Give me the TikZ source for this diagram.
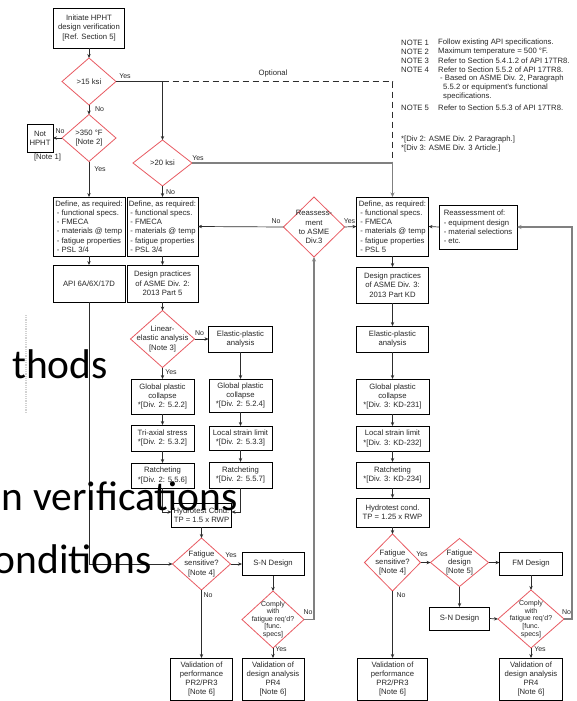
\documentclass[tikz,border=0pt]{standalone}
\usepackage{fontspec}
\setmainfont{Liberation Sans}
\newfontfamily\slidefont{Carlito}
\usetikzlibrary{shapes.geometric,arrows.meta,calc}
\definecolor{diared}{RGB}{232,90,98}
\definecolor{txtc}{RGB}{40,40,40}
\definecolor{linec}{RGB}{45,45,45}
\definecolor{glinec}{RGB}{128,128,128}
\newcommand\fsz{\fontsize{7.7}{9.3}\selectfont}
\newcommand\fdef{\fontsize{7.7}{9.2}\selectfont}
\newcommand\fcom{\fontsize{7}{7.6}\selectfont}
\newcommand\flbl{\fontsize{7}{8}\selectfont}
\newcommand\fnote{\fontsize{7.7}{9}\selectfont}
\begin{document}
\begin{tikzpicture}[x=1pt,y=-1pt,
  box/.style={draw=black, line width=0.7pt, align=center, inner sep=0.5pt, outer sep=0pt, font=\fsz, text=txtc},
  lbox/.style={box, align=left, font=\fdef},
  dia/.style={shape=diamond, draw=diared, line width=0.8pt, inner sep=0pt, outer sep=0pt},
  dtxt/.style={align=center, font=\fsz, text=txtc, inner sep=0pt},
  wh/.style 2 args={minimum width=#1, minimum height=#2},
  lbl/.style={font=\flbl, text=txtc, inner sep=0pt},
  note/.style={font=\fnote, text=txtc, inner sep=0pt, anchor=west},
  arr/.style={draw=linec, line width=0.7pt, -{Stealth[length=4pt,width=3.4pt]}},
  plainline/.style={draw=linec, line width=0.7pt},
  garr/.style={draw=glinec, line width=1.2pt, -{Stealth[length=4.5pt,width=4pt]}},
  dashl/.style={draw=linec, line width=0.8pt, dash pattern=on 6pt off 4pt},
  slide/.style={font=\slidefont\fontsize{41.5}{45}\selectfont, text=black, inner sep=0pt, anchor=base east}
]
\fill[white] (0,0) rectangle (577,701);
\useasboundingbox (0,0) rectangle (577,701);

% ---------- left column ----------
\node[box,wh={71pt}{40pt}] (start) at (89,28) {Initiate HPHT\\design verification\\{[Ref. Section 5]}};
\node[dia,wh={54pt}{47pt}] (d15) at (89,81.5) {};
\node[dtxt] (d15t) at (d15) {>15 ksi};
\node[dia,wh={54pt}{47pt}] (d350) at (89,138) {};
\node[dtxt] (d350t) at (d350) {>350 °F\\{[Note 2]}};
\node[box,wh={26pt}{28pt}] (nhp) at (40,138) {Not\\HPHT};
\node[lbl,font=\fsz] (n1) at (47.5,157.5) {[Note 1]};
\node[lbox,wh={72pt}{59pt}] (def1) at (89,226.5) {Define, as required:\\\hspace{1.5pt}- functional specs.\\\hspace{1.5pt}- FMECA\\\hspace{1.5pt}- materials @ temp\\\hspace{1.5pt}- fatigue properties\\\hspace{1.5pt}- PSL 3/4};
\node[box,wh={72pt}{37pt}] (api) at (89,283.5) {API 6A/6X/17D};

% ---------- Div 2 column ----------
\node[dia,wh={59pt}{46pt}] (d20) at (162.5,163) {};
\node[dtxt] (d20t) at (d20) {>20 ksi};
\node[lbox,wh={71pt}{59pt}] (def2) at (162.5,226.5) {Define, as required:\\\hspace{1.5pt}- functional specs.\\\hspace{1.5pt}- FMECA\\\hspace{1.5pt}- materials @ temp\\\hspace{1.5pt}- fatigue properties\\\hspace{1.5pt}- PSL 3/4};
\node[box,wh={71pt}{37pt}] (dp2) at (162.5,283.5) {Design practices\\of ASME Div. 2:\\2013 Part 5};
\node[dia,wh={64pt}{57pt}] (dlin) at (162.5,339) {};
\node[dtxt] (dlint) at (dlin) {Linear-\\elastic analysis\\{[Note 3]}};
\node[box,wh={64pt}{26pt}] (ep2) at (240.5,339) {Elastic-plastic\\analysis};
\node[box,wh={63pt}{35pt}] (gpc2a) at (162.5,396.5) {Global plastic\\collapse\\{*[Div. 2: 5.2.2]}};
\node[box,wh={63pt}{26pt}] (tri) at (162.5,438) {Tri-axial stress\\{*[Div. 2: 5.3.2]}};
\node[box,wh={63pt}{25pt}] (rat2a) at (162.5,475.5) {Ratcheting\\{*[Div. 2: 5.5.6]}};
\node[box,wh={63pt}{33pt}] (gpc2b) at (240.5,395.5) {Global plastic\\collapse\\{*[Div. 2: 5.2.4]}};
\node[box,wh={63pt}{24pt}] (lsl2) at (240.5,438) {Local strain limit\\{*[Div. 2: 5.3.3]}};
\node[box,wh={63pt}{26pt}] (rat2b) at (240.5,475) {Ratcheting\\{*[Div. 2: 5.5.7]}};
\node[box,wh={60pt}{24pt}] (hyd2) at (201.5,515) {Hydrotest Cond.\\TP = 1.5 x RWP};
\node[dia,wh={58pt}{52pt}] (dfat2) at (201.5,564) {};
\node[dtxt] (dfat2t) at (dfat2) {Fatigue\\sensitive?\\{[Note 4]}};
\node[box,wh={62pt}{23pt}] (sn2) at (273,564) {S-N Design};
\node[dia,wh={62pt}{57pt}] (dcomp2) at (273,619.5) {};
\node[dtxt,font=\fcom] (dcomp2t) at (dcomp2) {Comply\\with\\fatigue req'd?\\{[func.}\\specs]};
\node[box,wh={62pt}{42pt},font=\fontsize{7.7}{9}\selectfont] (val2a) at (201.5,679) {Validation of\\performance\\PR2/PR3\\{[Note 6]}};
\node[box,wh={62pt}{42pt},font=\fontsize{7.7}{9}\selectfont] (val2b) at (273,679) {Validation of\\design analysis\\PR4\\{[Note 6]}};

% ---------- reassessment ----------
\node[dia,wh={61pt}{60pt}] (dreas) at (314,227) {};
\node[dtxt,font=\fdef] (dreast) at (dreas) {Reassess-\\ment\\to ASME\\Div.3};

% ---------- Div 3 column ----------
\node[lbox,wh={72pt}{59pt}] (def3) at (392.5,226.5) {Define, as required:\\\hspace{1.5pt}- functional specs.\\\hspace{1.5pt}- FMECA\\\hspace{1.5pt}- materials @ temp\\\hspace{1.5pt}- fatigue properties\\\hspace{1.5pt}- PSL 5};
\node[lbox,wh={78pt}{44pt}] (reas) at (478,227) {Reassessment of:\\- equipment design\\- material selections\\- etc.};
\node[box,wh={72pt}{36pt}] (dp3) at (392.5,285) {Design practices\\of ASME Div. 3:\\2013 Part KD};
\node[box,wh={72pt}{26pt}] (ep3) at (392.5,339) {Elastic-plastic\\analysis};
\node[box,wh={73pt}{35pt}] (gpc3) at (392.5,396.5) {Global plastic\\collapse\\{*[Div. 3: KD-231]}};
\node[box,wh={73pt}{25pt}] (lsl3) at (392.5,438.5) {Local strain limit\\{*[Div. 3: KD-232]}};
\node[box,wh={73pt}{26pt}] (rat3) at (392.5,475) {Ratcheting\\{*[Div. 3: KD-234]}};
\node[box,wh={73pt}{29pt}] (hyd3) at (392.5,512.5) {Hydrotest cond.\\TP = 1.25 x RWP};
\node[dia,wh={56pt}{57pt}] (dfat3) at (392.5,562.5) {};
\node[dtxt] (dfat3t) at (dfat3) {Fatigue\\sensitive?\\{[Note 4]}};
\node[dia,wh={58pt}{48pt}] (dfatd) at (459.5,562.5) {};
\node[dtxt] (dfatdt) at (dfatd) {Fatigue\\design\\{[Note 5]}};
\node[box,wh={63pt}{23pt}] (fm) at (531,563.5) {FM Design};
\node[box,wh={60pt}{23pt}] (sn3) at (459.5,618.5) {S-N Design};
\node[dia,wh={66pt}{58pt}] (dcomp3) at (531,619) {};
\node[dtxt,font=\fcom] (dcomp3t) at (dcomp3) {Comply\\with\\fatigue req'd?\\{[func.}\\specs]};
\node[box,wh={70pt}{42pt},font=\fontsize{7.7}{9}\selectfont] (val3a) at (392.5,679) {Validation of\\performance\\PR2/PR3\\{[Note 6]}};
\node[box,wh={63pt}{42pt},font=\fontsize{7.7}{9}\selectfont] (val3b) at (531,679) {Validation of\\design analysis\\PR4\\{[Note 6]}};

% ---------- connectors ----------
\draw[arr] (start.south) -- (d15.north);
\draw[arr] (d15.south) -- (d350.north);
\draw[arr] (d350.west) -- (nhp.east);
\draw[arr] (d350.south) -- (def1.north);
\coordinate (br) at (162.5,81.5);
\coordinate (dc) at (392.5,81.5);
\coordinate (dj) at (392.5,163);
\draw[plainline] (d15.east) -- (br);
\draw[arr] (br) -- (d20.north);
\draw[dashl] (br) -- (dc) -- (dj);
\draw[garr] (d20.east) -- (dj) -- (def3.north);
\draw[arr] (d20.south) -- (def2.north);
\draw[arr] (def1.south) -- (api.north);
\draw[arr] (def2.south) -- (dp2.north);
\draw[arr] (dp2.south) -- (dlin.north);
\draw[arr] (dlin.east) -- (ep2.west);
\draw[arr] (dlin.south) -- (gpc2a.north);
\draw[arr] (gpc2a.south) -- (tri.north);
\draw[arr] (tri.south) -- (rat2a.north);
\draw[arr] (ep2.south) -- (gpc2b.north);
\draw[arr] (gpc2b.south) -- (lsl2.north);
\draw[arr] (lsl2.south) -- (rat2b.north);
\draw[arr] (rat2a.south) |- ([yshift=3pt]hyd2.west);
\draw[arr] (rat2b.south) |- ([yshift=3pt]hyd2.east);
\draw[arr] (hyd2.south) -- (dfat2.north);
\draw[arr] (api.south) |- (dfat2.west);
\draw[arr] (dfat2.east) -- (sn2.west);
\draw[arr] (dfat2.south) -- (val2a.north);
\draw[arr] (sn2.south) -- (dcomp2.north);
\draw[arr] (dcomp2.south) -- (val2b.north);
\draw[garr] (dcomp2.east) -| (dreas.south);
\draw[arr] (dreas.west) -- (def2.east);
\draw[arr] (dreas.east) -- (def3.west);
\draw[arr] (reas.west) -- (def3.east);
\draw[arr] (def3.south) -- (dp3.north);
\draw[arr] (dp3.south) -- (ep3.north);
\draw[arr] (ep3.south) -- (gpc3.north);
\draw[arr] (gpc3.south) -- (lsl3.north);
\draw[arr] (lsl3.south) -- (rat3.north);
\draw[arr] (rat3.south) -- (hyd3.north);
\draw[arr] (hyd3.south) -- (dfat3.north);
\draw[arr] (dfat3.east) -- (dfatd.west);
\draw[arr] (dfat3.south) -- (val3a.north);
\draw[arr] (dfatd.east) -- (fm.west |- dfatd.east);
\draw[arr] (dfatd.south) -- (sn3.north);
\draw[arr] (sn3.east) -- (dcomp3.west);
\draw[arr] (fm.south) -- (dcomp3.north);
\draw[arr] (dcomp3.south) -- (val3b.north);
\coordinate (r3) at (572,619);
\draw[garr] (dcomp3.east) -- (r3) |- (reas.east);

% ---------- connector labels ----------
\node[lbl] (l1) at (125,76) {Yes};
\node[lbl] (l2) at (99.5,109) {No};
\node[lbl] (l3) at (60,131) {No};
\node[lbl] (l4) at (100,169) {Yes};
\node[lbl,font=\fsz] (l5) at (273,74) {Optional};
\node[lbl] (l6) at (198,158) {Yes};
\node[lbl] (l7) at (170.5,192) {No};
\node[lbl] (l8) at (276,221) {No};
\node[lbl] (l9) at (349.5,221) {Yes};
\node[lbl] (l10) at (199.5,333) {No};
\node[lbl] (l11) at (171,372) {Yes};
\node[lbl] (l12) at (231,555) {Yes};
\node[lbl] (l13) at (208,595) {No};
\node[lbl] (l14) at (308,612) {No};
\node[lbl] (l15) at (281,649) {Yes};
\node[lbl] (l16) at (422,554) {Yes};
\node[lbl] (l17) at (401,595) {No};
\node[lbl] (l18) at (566.5,612) {No};
\node[lbl] (l19) at (540,649) {Yes};

% ---------- notes ----------
\node[note] (nt1) at (401,43) {NOTE 1};
\node[note] (nd1) at (438,43) {Follow existing API specifications.};
\node[note] (nt2) at (401,52) {NOTE 2};
\node[note] (nd2) at (438,52) {Maximum temperature = 500 °F.};
\node[note] (nt3) at (401,61) {NOTE 3};
\node[note] (nd3) at (438,61) {Refer to Section 5.4.1.2 of API 17TR8.};
\node[note] (nt4) at (401,70) {NOTE 4};
\node[note] (nd4) at (438,70) {Refer to Section 5.5.2 of API 17TR8.};
\node[note] (nd4a) at (440,79) {- Based on ASME Div. 2, Paragraph};
\node[note] (nd4b) at (443,88) {5.5.2 or equipment's functional};
\node[note] (nd4c) at (443,97) {specifications.};
\node[note] (nt5) at (401,108) {NOTE 5};
\node[note] (nd5) at (438,108) {Refer to Section 5.5.3 of API 17TR8.};
\node[note] (ndv2) at (401,140) {*[Div 2: ASME Div. 2 Paragraph.]};
\node[note] (ndv3) at (401,149) {*[Div 3: ASME Div. 3 Article.]};

% ---------- slide overlay ----------
\draw[gray!35, line width=2pt, dash pattern=on 0.8pt off 1pt] (26,315) -- (26,413);
\node[slide] (ov1) at (108,378) {thods};
\node[slide] (ov2) at (238,510) {n verifications};
\node[slide] (ov3) at (152,573) {onditions};
\end{tikzpicture}
\end{document}
